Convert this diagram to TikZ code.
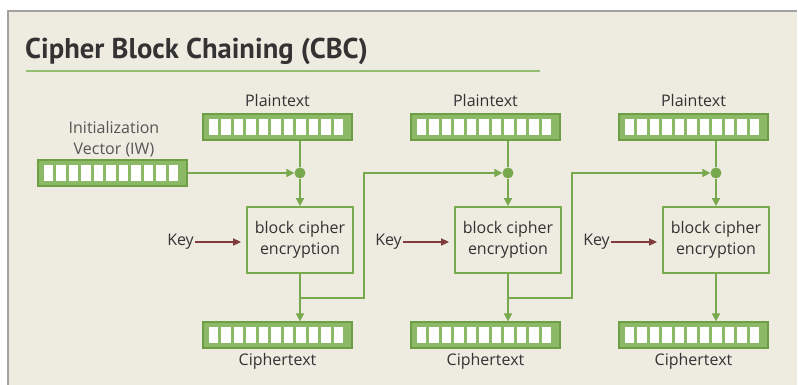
\documentclass[tikz,border=0pt]{standalone}
\usepackage{fontspec}
\setmainfont{Open Sans}
\newfontfamily\headfont{PT Sans}
\usetikzlibrary{arrows.meta}
\definecolor{panel}{HTML}{EEEBE1}
\definecolor{frame}{HTML}{A2A2A2}
\definecolor{flowgreen}{HTML}{78A94C}
\definecolor{regfill}{HTML}{8CB966}
\definecolor{regline}{HTML}{6F9F45}
\definecolor{rulegreen}{HTML}{93BD73}
\definecolor{keyred}{HTML}{7E3B3B}
\definecolor{ink}{HTML}{333333}
\definecolor{softink}{HTML}{555555}
\begin{document}
\begin{tikzpicture}[x=1pt,y=-1pt,
  txt/.style={text=ink, font=\fontsize{16}{21}\selectfont, inner sep=0pt},
  register/.style={draw=regline, fill=regfill, line width=1.2pt,
    minimum width=149pt, minimum height=26pt, inner sep=0pt,
    path picture={\foreach \j in {0,...,10}{
      \fill[white] ([shift={(6pt+\j*12.45pt,-5pt)}]path picture bounding box.north west)
        rectangle ++(9.45pt,-16pt);}}},
  cipherbox/.style={draw=flowgreen, line width=1.8pt, minimum width=106pt,
    minimum height=66pt, inner sep=0pt, align=center, text=ink,
    font=\fontsize{16}{21.5}\selectfont},
  joint/.style={circle, fill=flowgreen, inner sep=0pt, minimum size=11pt},
  flow/.style={draw=flowgreen, line width=1.8pt},
  flowarrow/.style={flow, -{Triangle[length=8pt,width=8pt]}},
  keyarrow/.style={draw=keyred, line width=1.5pt, -{Triangle[length=8pt,width=7pt]},
    shorten >=5pt}
]
\useasboundingbox (0,0) rectangle (798,385);
\fill[white] (0,0) rectangle (798,385);
\fill[panel] (8,11) rectangle (797,385);
\draw[frame, line width=2pt] (8,385) -- (8,11) -- (797,11);

% heading
\node[anchor=base west, inner sep=0pt, text=ink,
  font=\headfont\bfseries\fontsize{28.6}{31}\selectfont] (title) at (25,59) {Cipher Block Chaining (CBC)};
\draw[rulegreen, line width=2pt] (26,71) -- (540,71);

% initialization vector
\node[txt, text=softink, align=center] (ivtext) at (114,139)
  {Initialization\\Vector (IW)};
\node[register] (iv) at (112.5,173) {};

% the three encryption stages
\foreach \i/\cx in {1/300,2/508,3/716}{
  \node[txt] (pt\i) at (\cx-22.5,101) {Plaintext};
  \node[register] (p\i) at (\cx-22.5,127) {};
  \node[joint] (d\i) at (\cx,173) {};
  \node[cipherbox] (b\i) at (\cx,240) {block cipher\\encryption};
  \node[txt, anchor=east] (k\i) at (\cx-106,242) {Key};
  \node[register] (c\i) at (\cx-22.5,335) {};
  \node[txt] (ct\i) at (\cx-22.5,361) {Ciphertext};
  \coordinate (j\i) at (\cx,298);
  \draw[flow] (p\i.south -| d\i) -- (d\i);
  \draw[flowarrow] (d\i) -- (b\i.north);
  \draw[flowarrow] (b\i.south) -- (b\i.south |- c\i.north);
  \draw[keyarrow] (k\i.east) ++(1,0) -- (b\i.west |- k\i.east);
}

% chaining
\draw[flowarrow] (iv.east) -- (d1);
\draw[flowarrow] (j1) -- ++(64,0) |- (d2);
\draw[flowarrow] (j2) -- ++(64,0) |- (d3);
\end{tikzpicture}
\end{document}
